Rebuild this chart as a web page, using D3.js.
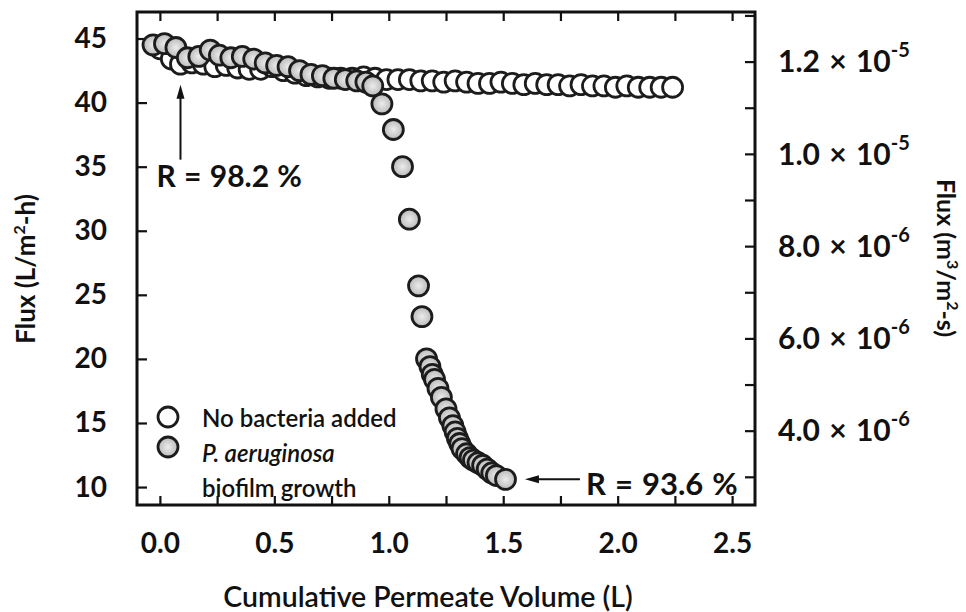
<!DOCTYPE html>
<html>
<head>
<meta charset="utf-8">
<script src="https://cdn.jsdelivr.net/npm/d3@7"></script>
<style>
  body { margin: 0; background: #fff; }
  svg text { font-family: Lato, "Open Sans", sans-serif; fill: #111; }
</style>
</head>
<body>
<svg id="chart" width="966" height="612"></svg>
<script>
// no bacteria added (open markers)
var openVolume = [0.00, 0.05, 0.09, 0.14, 0.19, 0.24, 0.29, 0.34, 0.39, 0.44, 0.49, 0.54, 0.59, 0.64, 0.69, 0.74,
                  0.79, 0.84, 0.89, 0.94, 0.99, 1.04, 1.09, 1.14, 1.19, 1.24, 1.29, 1.34, 1.39, 1.44, 1.49, 1.54,
                  1.59, 1.64, 1.69, 1.74, 1.79, 1.84, 1.89, 1.94, 1.99, 2.04, 2.09, 2.14, 2.19, 2.24];
var openFlux = [44.2, 43.4, 43.0, 43.1, 43.0, 42.8, 42.9, 42.7, 42.6, 42.6, 42.8, 42.5, 42.3, 42.1, 42.0, 41.9,
                41.9, 41.9, 42.0, 41.9, 41.8, 41.8, 41.8, 41.7, 41.7, 41.6, 41.7, 41.6, 41.5, 41.5, 41.6, 41.5,
                41.4, 41.5, 41.4, 41.4, 41.3, 41.4, 41.3, 41.3, 41.2, 41.3, 41.2, 41.2, 41.2, 41.2];

// P. aeruginosa biofilm growth (grey markers)
var biofilmVolume = [-0.03, 0.02, 0.07, 0.12, 0.17, 0.22, 0.26, 0.31, 0.36, 0.41, 0.46, 0.51, 0.56, 0.61, 0.66,
                     0.71, 0.76, 0.81, 0.86, 0.90, 0.93, 0.97, 1.02, 1.06, 1.09, 1.13, 1.145, 1.165, 1.18, 1.19,
                     1.20, 1.215, 1.23, 1.25, 1.265, 1.28, 1.29, 1.30, 1.31, 1.32, 1.34, 1.355, 1.37, 1.39, 1.41,
                     1.43, 1.45, 1.47, 1.51];
var biofilmFlux = [44.5, 44.6, 44.3, 43.5, 43.6, 44.1, 43.7, 43.5, 43.6, 43.4, 43.1, 42.9, 42.8, 42.5, 42.2,
                   42.1, 41.9, 41.8, 41.7, 41.6, 41.3, 39.9, 37.9, 35.0, 30.9, 25.7, 23.3, 20.0, 19.4, 18.8,
                   18.4, 17.7, 17.0, 16.1, 15.4, 14.8, 14.3, 13.8, 13.4, 13.0, 12.6, 12.3, 12.1, 11.9, 11.7,
                   11.4, 11.1, 10.9, 10.6];

var xTickValues = [0, 0.25, 0.5, 0.75, 1, 1.25, 1.5, 1.75, 2, 2.25, 2.5];
var xTickLabels = [0, 0.5, 1, 1.5, 2, 2.5];
var yTickValues = [10, 15, 20, 25, 30, 35, 40, 45];
var rightTickValues = [3e-6, 4e-6, 5e-6, 6e-6, 7e-6, 8e-6, 9e-6, 1.0e-5, 1.1e-5, 1.2e-5, 1.3e-5];
var rightLabelValues = [4e-6, 6e-6, 8e-6, 1.0e-5, 1.2e-5];
var rightLabelMantissa = ["4.0", "6.0", "8.0", "1.0", "1.2"];
var rightLabelExponent = ["-6", "-6", "-6", "-5", "-5"];

var legendNames = ["No bacteria added", "P. aeruginosa", "biofilm growth"];
var annotations = [
  {text: "R = 98.2 %", volume: 0.09, flux: 41.4, dir: "up"},
  {text: "R = 93.6 %", volume: 1.595, flux: 10.6, dir: "left"}
];

var svg = d3.select("#chart");

var x = d3.scaleLinear().domain([-0.1, 2.6]).range([137, 755]);
var y = d3.scaleLinear().domain([8.6, 47.07]).range([505, 12]);
// L/m2-h -> m3/m2-s
var y2 = d3.scaleLinear()
           .domain(y.domain().map(v => v / 3.6e6))
           .range(y.range());

var defs = svg.append("defs");
var grad = defs.append("radialGradient").attr("id", "grey");
grad.append("stop").attr("offset", "0%").attr("stop-color", "#ececec");
grad.append("stop").attr("offset", "100%").attr("stop-color", "#b9b9b9");

// axes, ticks pointing inwards
svg.append("g")
    .attr("class", "axis")
    .attr("transform", "translate(137,0)")
    .call(d3.axisLeft(y).tickValues(yTickValues).tickSize(-10).tickPadding(30).tickFormat(d3.format("d")));

svg.append("g")
    .attr("class", "axis")
    .attr("transform", "translate(0,505)")
    .call(d3.axisBottom(x).tickValues(xTickValues).tickSize(-9).tickPadding(28)
      .tickFormat(d => xTickLabels.includes(d) ? d3.format(".1f")(d) : ""));

svg.append("g")
    .attr("class", "axis")
    .attr("transform", "translate(0,12)")
    .call(d3.axisTop(x).tickValues(xTickValues).tickSize(-9).tickFormat(""));

svg.append("g")
    .attr("class", "axis")
    .attr("transform", "translate(755,0)")
    .call(d3.axisRight(y2).tickValues(rightTickValues).tickSize(-10).tickFormat(""));

svg.selectAll(".axis .domain").remove();
svg.selectAll(".axis line").attr("stroke", "#111").attr("stroke-width", 2.2);
svg.selectAll(".axis text")
    .attr("font-family", "Lato, sans-serif")
    .attr("font-weight", "bold")
    .attr("font-size", 28)
    .attr("fill", "#111");

// right axis labels with exponents
var rl = svg.append("g")
    .selectAll("text")
    .data(rightLabelValues)
    .enter()
      .append("text")
      .attr("x", 778)
      .attr("y", d => y2(d))
      .attr("dy", "0.36em")
      .attr("font-weight", "bold")
      .attr("font-size", 30)
      .attr("word-spacing", 2);
rl.append("tspan").text((d, i) => rightLabelMantissa[i] + " \u00d7 10");
rl.append("tspan")
    .attr("font-size", 20)
    .attr("dy", "-0.75em")
    .text((d, i) => rightLabelExponent[i]);

// frame
svg.append("rect")
    .attr("x", 137).attr("y", 12)
    .attr("width", 755 - 137).attr("height", 505 - 12)
    .attr("fill", "none")
    .attr("stroke", "#111")
    .attr("stroke-width", 3);

// markers
function drawSeries(vols, fluxes, fill) {
  svg.append("g")
      .selectAll("circle")
      .data(vols.map((v, i) => ({v: v, f: fluxes[i]})))
      .enter()
        .append("circle")
        .attr("cx", d => x(d.v))
        .attr("cy", d => y(d.f))
        .attr("r", 10)
        .attr("fill", fill)
        .attr("stroke", "#1c1c1c")
        .attr("stroke-width", 2.8);
}
drawSeries(openVolume, openFlux, "#fff");
drawSeries(biofilmVolume, biofilmFlux, "url(#grey)");

// legend
var legend = svg.append("g");
legend.append("circle").attr("cx", 168).attr("cy", 417).attr("r", 10)
    .attr("fill", "#fff").attr("stroke", "#1c1c1c").attr("stroke-width", 2.8);
legend.append("circle").attr("cx", 168).attr("cy", 447).attr("r", 10)
    .attr("fill", "url(#grey)").attr("stroke", "#1c1c1c").attr("stroke-width", 2.8);
legend.selectAll("text")
    .data(legendNames)
    .enter()
      .append("text")
      .attr("x", 202)
      .attr("y", (d, i) => 427 + i * 35)
      .attr("font-size", 24)
      .attr("font-weight", 600)
      .attr("font-style", (d, i) => i === 1 ? "italic" : "normal")
      .text(d => d);

// annotations with arrows
annotations.forEach(a => {
  var tx = x(a.volume), ty = y(a.flux);
  var g = svg.append("g");
  if (a.dir === "up") {
    g.append("line").attr("x1", tx).attr("x2", tx).attr("y1", ty + 12).attr("y2", ty + 75)
        .attr("stroke", "#111").attr("stroke-width", 2);
    g.append("path")
        .attr("d", "M" + tx + "," + ty + "l-4,14l8,0z")
        .attr("fill", "#111");
    g.append("text").attr("x", tx - 24).attr("y", ty + 102)
        .attr("font-size", 30).attr("font-weight", "bold").attr("word-spacing", 1).text(a.text);
  } else {
    g.append("line").attr("x1", tx + 12).attr("x2", tx + 55).attr("y1", ty).attr("y2", ty)
        .attr("stroke", "#111").attr("stroke-width", 2);
    g.append("path")
        .attr("d", "M" + tx + "," + ty + "l14,-4l0,8z")
        .attr("fill", "#111");
    g.append("text").attr("x", tx + 61).attr("y", ty + 16)
        .attr("font-size", 31).attr("font-weight", "bold").attr("word-spacing", 1.5).text(a.text);
  }
});

// axis titles
svg.append("text")
    .attr("x", 428).attr("y", 607)
    .attr("text-anchor", "middle")
    .attr("font-size", 28.5)
    .attr("font-weight", 600)
    .text("Cumulative Permeate Volume (L)");

var lt = svg.append("text")
    .attr("transform", "translate(35,269) rotate(-90)")
    .attr("text-anchor", "middle")
    .attr("font-size", 26)
    .attr("font-weight", "bold");
lt.append("tspan").text("Flux (L/m");
lt.append("tspan").attr("font-size", 16).attr("dy", "-0.65em").text("2");
lt.append("tspan").attr("dy", "0.4em").text("-h)");

var rt = svg.append("text")
    .attr("transform", "translate(937,258) rotate(90)")
    .attr("text-anchor", "middle")
    .attr("font-size", 25)
    .attr("font-weight", "bold");
rt.append("tspan").text("Flux (m");
rt.append("tspan").attr("font-size", 16).attr("dy", "-0.6em").text("3");
rt.append("tspan").attr("dy", "0.38em").text("/m");
rt.append("tspan").attr("font-size", 16).attr("dy", "-0.6em").text("2");
rt.append("tspan").attr("dy", "0.38em").text("-s)");
</script>
</body>
</html>
